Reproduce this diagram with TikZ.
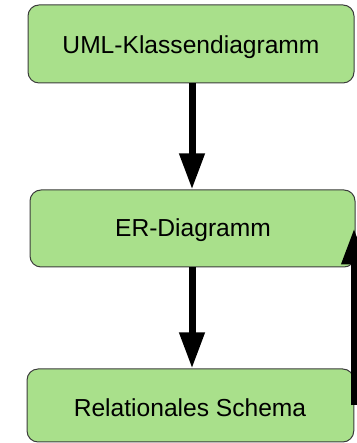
\documentclass[tikz,border=0pt]{standalone}
\usepackage{fontspec}
\setmainfont{Liberation Sans}
\usetikzlibrary{arrows.meta}
\definecolor{boxgreen}{RGB}{169,224,139}
\definecolor{boxline}{RGB}{60,60,60}
\tikzset{
  stepbox/.style={draw=boxline, line width=1pt, fill=boxgreen, rounded corners=11pt,
    inner sep=0pt},
  steptext/.style={font=\fontsize{24.6}{29}\selectfont},
  flow/.style={line width=7pt, -{Triangle[length=36pt,width=24pt]}},
}
\begin{document}
\begin{tikzpicture}[x=1pt,y=1pt]
\useasboundingbox (0,0) rectangle (356,443);
\node[stepbox, minimum width=326pt, minimum height=78pt] (uml) at (191,399) {};
\node[steptext] (umlt) at (191,396) {UML-Klassendiagramm};
\node[stepbox, minimum width=325pt, minimum height=77pt] (er) at (192.5,214.5) {};
\node[steptext] (ert) at (193,213) {ER-Diagramm};
\node[stepbox, minimum width=326.7pt, minimum height=73pt] (rel) at (190.4,37.5) {};
\node[steptext] (relt) at (190,35) {Relationales Schema};
\draw[flow] (uml.south -| 192,0) -- (er.north -| 192,0);
\draw[flow] (er.south -| 192,0) -- (rel.north -| 192,0);
\draw[flow] ([xshift=-0.25pt]rel.east) -- ([xshift=-0.25pt]rel.east |- er.east);
\end{tikzpicture}
\end{document}
